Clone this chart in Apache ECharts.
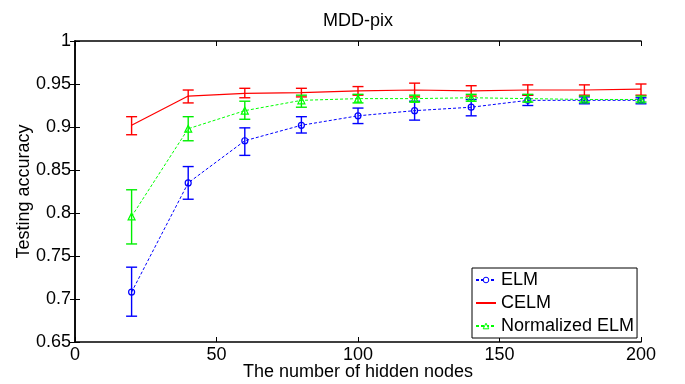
<!DOCTYPE html>
<html><head><meta charset="utf-8">
<script src="https://cdn.jsdelivr.net/npm/echarts@6/dist/echarts.min.js"></script>
<style>html,body{margin:0;padding:0;background:#fff}#c{width:685px;height:384px}</style>
</head><body><div id="c"></div>
<script>
var nodes = [20, 40, 60, 80, 100, 120, 140, 160, 180, 200];
var xTicks = [0, 50, 100, 150, 200];
var yTicks = [0.65, 0.7, 0.75, 0.8, 0.85, 0.9, 0.95, 1];

var elmMean = [0.708, 0.835, 0.884, 0.902, 0.913, 0.919, 0.923, 0.931, 0.931, 0.931];
var elmLow  = [0.680, 0.816, 0.867, 0.893, 0.904, 0.908, 0.913, 0.925, 0.927, 0.927];
var elmHigh = [0.737, 0.854, 0.899, 0.912, 0.922, 0.930, 0.932, 0.937, 0.935, 0.934];

var celmMean = [0.902, 0.936, 0.939, 0.940, 0.942, 0.943, 0.942, 0.943, 0.943, 0.944];
var celmLow  = [0.891, 0.928, 0.934, 0.935, 0.937, 0.935, 0.936, 0.937, 0.937, 0.937];
var celmHigh = [0.912, 0.943, 0.945, 0.945, 0.947, 0.951, 0.948, 0.949, 0.949, 0.950];

var nelmMean = [0.796, 0.898, 0.919, 0.931, 0.933, 0.933, 0.934, 0.933, 0.932, 0.932];
var nelmLow  = [0.764, 0.884, 0.909, 0.923, 0.928, 0.929, 0.930, 0.929, 0.929, 0.929];
var nelmHigh = [0.827, 0.912, 0.930, 0.937, 0.938, 0.937, 0.938, 0.938, 0.936, 0.936];

var FONT = '"Liberation Sans", Arial, Helvetica, sans-serif';

function pairs(ys) { return nodes.map(function (x, i) { return [x, ys[i]]; }); }
function errData(lo, hi) { return nodes.map(function (x, i) { return [x, lo[i], hi[i]]; }); }
function errSeries(name, lo, hi, color) {
  return {
    name: name + ' err', type: 'custom', xAxisIndex: 0, yAxisIndex: 0, z: 3,
    data: errData(lo, hi),
    encode: { x: 0, y: [1, 2] },
    renderItem: function (params, api) {
      var x = api.value(0);
      var p1 = api.coord([x, api.value(2)]);
      var p2 = api.coord([x, api.value(1)]);
      var hw = 5.5;
      var st = { stroke: color, lineWidth: 1.4, fill: null };
      return { type: 'group', children: [
        { type: 'line', shape: { x1: p1[0], y1: p1[1], x2: p2[0], y2: p2[1] }, style: st },
        { type: 'line', shape: { x1: p1[0] - hw, y1: p1[1], x2: p1[0] + hw, y2: p1[1] }, style: st },
        { type: 'line', shape: { x1: p2[0] - hw, y1: p2[1], x2: p2[0] + hw, y2: p2[1] }, style: st }
      ]};
    },
    silent: true
  };
}

var axisLine = { show: true, lineStyle: { color: '#000', width: 1.5 } };
var tick = { show: true, inside: true, length: 5, lineStyle: { color: '#000', width: 1 } };
var lbl = { color: '#000', fontSize: 18, fontFamily: FONT };

var chart = echarts.init(document.getElementById('c'), null, { renderer: 'canvas' });
chart.setOption({
  animation: false,
  backgroundColor: '#fff',
  title: { text: 'MDD-pix', left: 358, top: 12, textAlign: 'center', padding: 0,
    textStyle: { fontSize: 18, fontWeight: 'normal', color: '#000', fontFamily: FONT } },
  grid: { left: 75, right: 44, top: 41, bottom: 42, containLabel: false, outerBoundsMode: 'none' },
  xAxis: [
    { type: 'value', position: 'bottom', min: 0, max: 200, interval: 50,
      axisLine: axisLine, axisTick: tick, splitLine: { show: false },
      axisLabel: Object.assign({ margin: 4, formatter: function (v) { return xTicks.indexOf(v) >= 0 ? String(v) : ''; } }, lbl),
      name: 'The number of hidden nodes', nameLocation: 'middle', nameGap: 21, nameMoveOverlap: false,
      nameTextStyle: { fontSize: 18, color: '#000', fontFamily: FONT, verticalAlign: 'top' } },
    { type: 'value', position: 'top', min: 0, max: 200, interval: 50,
      axisLine: axisLine, axisTick: tick, splitLine: { show: false }, axisLabel: { show: false } }
  ],
  yAxis: [
    { type: 'value', position: 'left', min: 0.65, max: 1, interval: 0.05,
      axisLine: axisLine, axisTick: tick, splitLine: { show: false },
      axisLabel: Object.assign({ margin: 4, formatter: function (v) {
        var r = Math.round(v * 100) / 100;
        for (var i = 0; i < yTicks.length; i++) if (Math.abs(yTicks[i] - r) < 1e-9) return String(yTicks[i]);
        return '';
      } }, lbl),
      name: 'Testing accuracy', nameLocation: 'middle', nameGap: 42, nameRotate: 90, nameMoveOverlap: false,
      nameTextStyle: { fontSize: 18, color: '#000', fontFamily: FONT } },
    { type: 'value', position: 'right', min: 0.65, max: 1, interval: 0.05,
      axisLine: axisLine, axisTick: tick, splitLine: { show: false }, axisLabel: { show: false } }
  ],
  legend: {
    data: [
      { name: 'ELM', itemStyle: { color: '#ffffff', borderColor: '#0000ff', borderWidth: 1 } },
      { name: 'CELM', itemStyle: { opacity: 0 } },
      { name: 'Normalized ELM', itemStyle: { color: '#ffffff', borderColor: '#00ff00', borderWidth: 1 } }
    ],
    orient: 'vertical', left: 472, top: 268,
    padding: [3, 3, 3, 3], itemGap: 5, itemWidth: 20, itemHeight: 7, itemTextGap: 4,
    backgroundColor: '#fff', borderColor: '#000', borderWidth: 1, borderRadius: 0,
    textStyle: { fontSize: 18, color: '#000', fontFamily: FONT },
    selectedMode: false
  },
  series: [
    { name: 'ELM', type: 'line', data: pairs(elmMean), z: 4,
      symbol: 'circle', symbolSize: 6,
      itemStyle: { color: 'rgba(255,255,255,0)', borderColor: '#0000ff', borderWidth: 1.2 },
      lineStyle: { color: '#0000ff', width: 1, type: [3, 2] } },
    { name: 'CELM', type: 'line', data: pairs(celmMean), z: 4,
      symbol: 'none', itemStyle: { color: '#ff0000' },
      lineStyle: { color: '#ff0000', width: 1.2, type: 'solid' } },
    { name: 'Normalized ELM', type: 'line', data: pairs(nelmMean), z: 4,
      symbol: 'triangle', symbolSize: 7,
      itemStyle: { color: 'rgba(255,255,255,0)', borderColor: '#00ff00', borderWidth: 1.2 },
      lineStyle: { color: '#00ff00', width: 1, type: [3, 2] } },
    errSeries('ELM', elmLow, elmHigh, '#0000ff'),
    errSeries('CELM', celmLow, celmHigh, '#ff0000'),
    errSeries('Normalized ELM', nelmLow, nelmHigh, '#00ee00')
  ]
});
</script></body></html>
